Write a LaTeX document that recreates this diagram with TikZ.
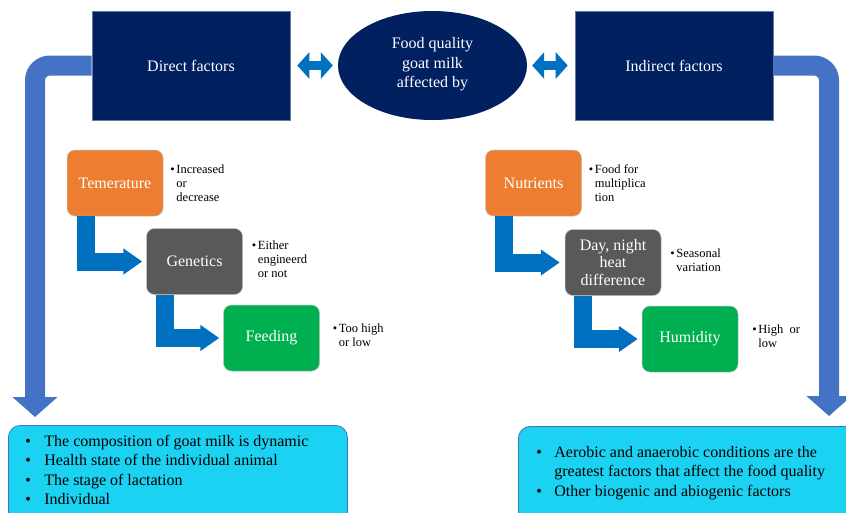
\documentclass[tikz,border=0pt]{standalone}
\usepackage{fontspec}
\setmainfont{Liberation Serif}
\usetikzlibrary{positioning, arrows.meta, shapes.geometric}

\definecolor{navy}{HTML}{002060}
\definecolor{bigblue}{HTML}{4472C4}
\definecolor{midblue}{HTML}{0070C0}
\definecolor{tempor}{HTML}{ED7D31}
\definecolor{genegray}{HTML}{595959}
\definecolor{feedgreen}{HTML}{00B050}
\definecolor{infocyan}{HTML}{1CD2F2}

\begin{document}
\begin{tikzpicture}[
  x=1pt, y=-1pt,
  font=\fontsize{16}{19.5}\selectfont,
  headbox/.style={rectangle, fill=navy, draw=navy!60!white, line width=0.6pt, text=white, minimum width=198pt, minimum height=109pt, inner sep=0pt},
  hubnode/.style={ellipse, fill=navy, text=white, minimum width=189pt, minimum height=109pt, inner sep=0pt, align=center},
  factor/.style={rectangle, rounded corners=8pt, draw=white!75!black, line width=0.5pt, text=white, minimum width=96pt, minimum height=66pt, inner sep=2pt, align=center},
  note/.style={inner sep=0pt, align=left, font=\fontsize{12.5}{14}\selectfont},
  infobox/.style={rectangle, rounded corners=12pt, fill=infocyan, draw=bigblue, line width=0.8pt, anchor=north west, inner xsep=0pt},
  bigarrow/.style={draw=bigblue, line width=20pt, rounded corners=15pt, -{Triangle[width=44pt,length=20pt]}},
  duoarrow/.style={draw=midblue, line width=9pt, {Triangle[width=26pt,length=12pt]}-{Triangle[width=26pt,length=12pt]}},
  steparrow/.style={draw=midblue, line width=18pt, -{Triangle[width=25pt,length=19pt]}}
]
\useasboundingbox (0,0) rectangle (846,512);

% top row
\node[headbox] (direct) at (191,65.5) {Direct factors};
\node[hubnode, text depth=6pt] (hub) at (432.5,65.5) {Food quality\\goat milk\\affected by};
\node[headbox] (indirect) at (674,65.5) {Indirect factors};

\draw[duoarrow, shorten <=7pt, shorten >=5pt] (direct.east) -- (hub.west);
\draw[duoarrow, shorten <=5pt, shorten >=7pt] (hub.east) -- (indirect.west);

% direct factors
\node[factor, fill=tempor] (temp) at (115,183) {Temerature};
\node[factor, fill=genegray] (genetics) at (194.5,261.5) {Genetics};
\node[factor, fill=feedgreen] (feeding) at (271.5,338) {Feeding};

\node[note, below right=14.5pt and 7pt of temp.north east] (tempnote)
  {\makebox[6pt][l]{\textbullet}Increased\\\hspace*{6pt}or\\\hspace*{6pt}decrease};
\node[note, below right=12.5pt and 9pt of genetics.north east] (genenote)
  {\makebox[6pt][l]{\textbullet}Either\\\hspace*{6pt}engineerd\\\hspace*{6pt}or not};
\node[note, below right=18.5pt and 13pt of feeding.north east] (feednote)
  {\makebox[6pt][l]{\textbullet}Too high\\\hspace*{6pt}or low};

\draw[steparrow, shorten >=4pt] ([xshift=19pt]temp.south west) |- (genetics.west);
\draw[steparrow, shorten >=4pt] ([xshift=18.5pt]genetics.south west) |- (feeding.west);

% indirect factors
\node[factor, fill=tempor] (nutrients) at (533.5,183) {Nutrients};
\node[factor, fill=genegray, font=\fontsize{16}{17.5}\selectfont] (daynight) at (613,262.5) {Day, night\\heat\\difference};
\node[factor, fill=feedgreen] (humidity) at (690,339) {Humidity};

\node[note, below right=14.5pt and 7pt of nutrients.north east] (nutrnote)
  {\makebox[6pt][l]{\textbullet}Food for\\\hspace*{6pt}multiplica\\\hspace*{6pt}tion};
\node[note, below right=19.5pt and 9pt of daynight.north east] (daynote)
  {\makebox[6pt][l]{\textbullet}Seasonal\\\hspace*{6pt}variation};
\node[note, below right=18.5pt and 14pt of humidity.north east] (humnote)
  {\makebox[6pt][l]{\textbullet}High\ \ or\\\hspace*{6pt}low};

\draw[steparrow, shorten >=5pt] ([xshift=18.5pt]nutrients.south west) |- (daynight.west);
\draw[steparrow, shorten >=4pt] ([xshift=18pt]daynight.south west) |- (humidity.west);

% long arrows down to the summaries
\coordinate (lefttip) at (35,417);
\coordinate (righttip) at (829,416);
\draw[bigarrow] (direct.west) -| (lefttip);
\draw[bigarrow] (indirect.east) -| (righttip);

% summaries
\node[infobox, inner ysep=7.4pt] (leftsum) at (8,425)
  {\begin{tabular}{@{\hspace{17pt}}p{19pt}@{}p{303pt}@{}}
   \textbullet & The composition of goat milk is dynamic\\
   \textbullet & Health state of the individual animal\\
   \textbullet & The stage of lactation\\
   \textbullet & Individual\rule[-30pt]{0pt}{1pt}
   \end{tabular}};
\node[infobox, inner ysep=17.4pt] (rightsum) at (518,426)
  {\begin{tabular}{@{\hspace{18pt}}p{18pt}@{}p{330pt}@{}}
   \textbullet & Aerobic and anaerobic conditions are the\\
   & greatest factors that affect the food quality\\
   \textbullet & Other biogenic and abiogenic factors\rule[-30pt]{0pt}{1pt}
   \end{tabular}};

\end{tikzpicture}
\end{document}
